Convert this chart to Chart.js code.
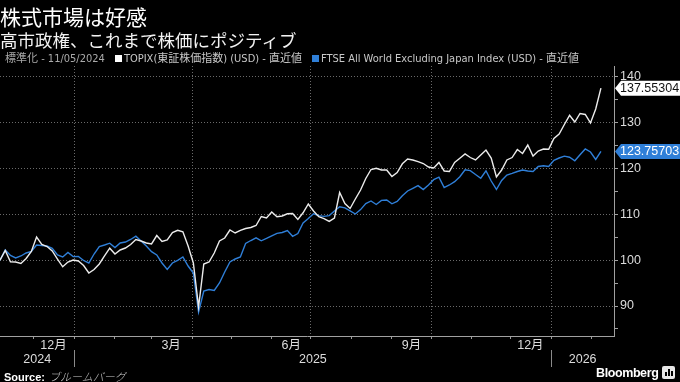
<!DOCTYPE html>
<html><head><meta charset="utf-8">
<script src="https://cdn.jsdelivr.net/npm/chart.js@4.4.1/dist/chart.umd.min.js"></script>
<style>
html,body{margin:0;padding:0;background:#000;width:680px;height:382px;overflow:hidden;}
#wrap{position:relative;width:680px;height:382px;}
canvas{position:absolute;left:0;top:0;}
.t{position:absolute;white-space:nowrap;color:#fff;line-height:1;}
#title{left:0px;top:1px;font:400 21px "Noto Sans CJK JP";}
#sub{left:0px;top:27px;font:400 17.5px "Noto Sans CJK JP";color:#f2f2f2;}
#legend{left:5px;top:49px;font:11px "Liberation Sans Narrow","DejaVu Sans Condensed","Liberation Sans","Noto Sans CJK JP";color:#c8c8c8;}
.sq{display:inline-block;width:7px;height:7px;margin:0 2px 0 10px;}
#src{left:4px;top:368px;font:11px "Liberation Sans","Noto Sans CJK JP";color:#ccc;}
#src b{color:#fff;}
#src i{font-family:"Noto Sans CJK JP";font-size:11px;font-weight:300;margin-left:4px;}
#bbg{left:596px;top:366px;font:bold 12.5px "Liberation Sans";letter-spacing:-0.4px;color:#fff;}
#logo{position:absolute;left:662px;top:366px;width:13px;height:13px;border-radius:2px;background:#e6e6e6;overflow:hidden;}
#logo span{position:absolute;bottom:3px;width:2px;background:#000;}
</style></head>
<body><div id="wrap">
<canvas id="c" width="680" height="382"></canvas>
<div class="t" id="title">株式市場は好感</div>
<div class="t" id="sub">高市政権、これまで株価にポジティブ</div>
<div class="t" id="legend"><span style="color:#aaa">標準化 - 11/05/2024</span><span class="sq" style="background:#ffffff"></span>TOPIX(東証株価指数) (USD) - 直近値<span class="sq" style="background:#2f7fd8"></span>FTSE All World Excluding Japan Index (USD) - 直近値</div>
<div class="t" id="src"><b>Source:</b><i>ブルームバーグ</i></div>
<div class="t" id="bbg">Bloomberg</div>
<div id="logo"><span style="left:3px;height:4px"></span><span style="left:6px;height:7px"></span><span style="left:9px;height:5px"></span></div>
</div>
<script>
// ---- data ----
const startDate = '2024-11-05';
const stepDays = 4;
const topix = [100.00,102.12,99.67,99.61,99.28,100.37,101.90,105.07,103.43,102.99,
102.01,100.26,98.56,99.61,100.04,99.83,98.84,97.21,97.97,99.17,
100.92,102.62,101.35,102.23,102.66,103.43,104.52,104.19,103.76,103.54,
105.39,104.08,104.45,106.05,106.53,106.22,103.10,99.39,89.80,99.17,
99.61,101.57,104.19,104.85,106.59,105.94,106.53,106.92,107.14,107.58,
109.54,109.21,110.52,109.50,109.65,110.13,110.20,108.89,110.35,112.27,
110.74,109.50,109.06,108.47,109.21,114.78,112.38,111.29,113.36,115.33,
117.84,119.80,120.07,119.69,119.69,118.27,119.15,121.05,122.10,121.88,
121.51,121.11,120.35,120.13,121.33,119.48,119.37,121.33,122.25,123.19,
122.42,121.88,122.97,124.06,122.31,118.17,119.69,121.88,122.42,124.17,
123.30,125.15,122.75,123.84,124.28,124.21,126.57,127.55,129.63,131.64,
130.17,132.03,131.81,129.96,133.01,137.55304];
const ftse = [100.00,102.23,101.03,100.48,100.92,101.57,101.94,103.32,103.21,103.10,
102.60,101.14,100.70,101.68,100.79,100.81,99.93,99.39,101.35,102.99,
103.32,103.71,102.77,103.76,103.97,104.52,105.24,104.19,103.10,101.86,
101.14,99.39,97.97,99.39,99.98,100.70,98.73,97.21,88.69,93.28,
93.60,93.38,95.02,97.42,99.61,100.26,100.70,103.65,104.30,104.89,
104.24,104.74,105.33,105.87,106.05,106.48,105.22,105.83,108.12,109.10,
110.13,109.72,109.56,109.74,110.74,111.66,111.44,110.79,110.09,111.05,
112.38,112.93,112.16,113.06,113.14,112.31,112.82,114.08,115.11,115.70,
116.29,115.41,116.42,117.58,118.12,115.87,116.42,117.14,118.23,119.74,
119.56,118.71,117.90,119.52,117.29,115.44,117.40,118.60,118.97,119.37,
119.69,119.48,119.37,120.46,120.61,120.46,121.79,122.31,122.71,122.49,
121.72,123.03,124.28,123.62,121.99,123.75703];
const seriesNames = ['TOPIX(東証株価指数) (USD) - 直近値','FTSE All World Excluding Japan Index (USD) - 直近値'];
const yTicks = [85,90,95,100,105,110,115,120,125,130,135,140];
const yMin = 83.45, yMax = 142.4;
const axisEnd = '2026-02-18';
const monthTickDates = ['2024-12-01','2025-01-01','2025-02-01','2025-03-01','2025-04-01','2025-05-01','2025-06-01','2025-07-01','2025-08-01','2025-09-01','2025-10-01','2025-11-01','2025-12-01','2026-01-01','2026-02-01'];
const gridDates = ['2025-01-01','2025-04-01','2025-07-01','2025-10-01','2026-01-01'];
const monthLabels = ['12月','3月','6月','9月','12月'];
const monthLabelDates = ['2024-12-16','2025-03-16','2025-06-16','2025-09-16','2025-12-16'];
const yearLabels = ['2024','2025','2026'];
const yearSplitDates = ['2025-01-01','2026-01-01'];

// ---- helpers ----
const base = Date.UTC(2025,0,1);
function dayNum(s){const [a,b,c]=s.split('-').map(Number);return (Date.UTC(a,b-1,c)-base)/86400000;}
const d0 = dayNum(startDate);
const xs = topix.map((_,i)=>d0+i*stepDays);
const gridSet = new Set(gridDates.map(dayNum));
const WHITE='#ececec', BLUE='#2f7fd8', GRID='#6a6a6a';

const overlay = {
  id:'overlay',
  afterDraw(chart){
    const {ctx, scales:{x,y}, chartArea} = chart;
    ctx.save();
    ctx.font = '12.5px "Liberation Sans", Arial, "Noto Sans CJK JP"';
    ctx.fillStyle = '#dcdcdc';
    ctx.textAlign='center'; ctx.textBaseline='middle';
    monthLabels.forEach((t,i)=>ctx.fillText(t, x.getPixelForValue(dayNum(monthLabelDates[i])), 346));
    const b=[x.left, ...yearSplitDates.map(d=>x.getPixelForValue(dayNum(d))), chartArea.right];
    yearLabels.forEach((t,i)=>ctx.fillText(t,(b[i]+b[i+1])/2,360));
    ctx.strokeStyle='#8a8a8a'; ctx.lineWidth=1;
    yearSplitDates.forEach(d=>{const px=Math.round(x.getPixelForValue(dayNum(d)))+0.5;ctx.beginPath();ctx.moveTo(px,350);ctx.lineTo(px,367);ctx.stroke();});
    chart.data.datasets.forEach(ds=>{
      const last = ds.data[ds.data.length-1].y;
      const py = y.getPixelForValue(last);
      const x0 = chartArea.right;
      ctx.fillStyle = ds.boxColor;
      ctx.beginPath();ctx.moveTo(x0+1,py);ctx.lineTo(x0+7,py-7.5);ctx.lineTo(680,py-7.5);ctx.lineTo(680,py+7.5);ctx.lineTo(x0+7,py+7.5);ctx.closePath();ctx.fill();
      ctx.fillStyle = ds.boxText; ctx.textAlign='left';
      ctx.fillText(last.toFixed(5), x0+6, py+0.5);
    });
    ctx.restore();
  }
};

new Chart(document.getElementById('c'),{
  type:'line',
  data:{datasets:[
    {label:seriesNames[0],data:xs.map((x,i)=>({x,y:topix[i]})),borderColor:WHITE,borderWidth:1.4,pointRadius:0,tension:0,boxColor:'#ffffff',boxText:'#111'},
    {label:seriesNames[1],data:xs.map((x,i)=>({x,y:ftse[i]})),borderColor:BLUE,borderWidth:1.4,pointRadius:0,tension:0,boxColor:BLUE,boxText:'#ffffff'}
  ]},
  options:{
    responsive:false, animation:false, devicePixelRatio:1, events:[],
    layout:{padding:{top:66,left:0,right:0,bottom:0}},
    plugins:{legend:{display:false},tooltip:{enabled:false}},
    scales:{
      x:{type:'linear',min:d0,max:dayNum(axisEnd),
        afterBuildTicks(s){s.ticks=monthTickDates.map(d=>({value:dayNum(d)}));},
        afterFit(s){s.height=46;},
        ticks:{display:false},
        grid:{color:c=>gridSet.has(c.tick&&c.tick.value)?GRID:'rgba(0,0,0,0)',tickColor:'#9a9a9a',tickLength:3,lineWidth:1},
        border:{display:true,color:'#a0a0a0',width:1,dash:[1,2]}
      },
      y:{type:'linear',position:'right',min:yMin,max:yMax,
        afterBuildTicks(s){s.ticks=yTicks.map(v=>({value:v}));},
        afterFit(s){s.width=66;},
        ticks:{padding:2,color:'#dcdcdc',font:{family:'"Liberation Sans", Arial',size:12.5},callback:v=>v%10===0?String(v):''},
        grid:{color:c=>(c.tick&&c.tick.value%10===0)?GRID:'rgba(0,0,0,0)',tickColor:'#a0a0a0',tickLength:4,lineWidth:1},
        border:{display:true,color:'#a0a0a0',width:1,dash:[1,2]}
      }
    }
  },
  plugins:[overlay]
});
</script>
</body></html>
